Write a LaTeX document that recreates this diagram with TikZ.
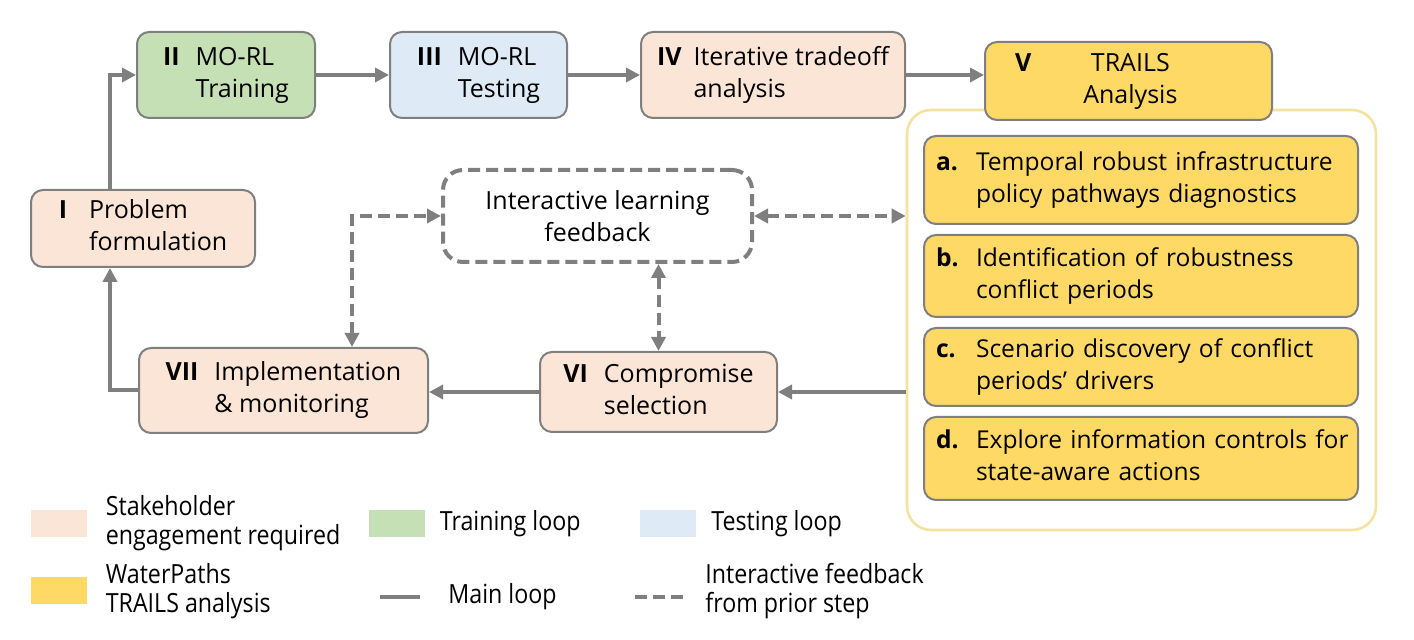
\documentclass[tikz,border=0pt]{standalone}
\usepackage{fontspec}
\setmainfont{Open Sans}
\newfontfamily\legendFace[FakeStretch=0.88]{Open Sans}
\usetikzlibrary{arrows.meta,positioning}

\definecolor{stakePeach}{HTML}{FBE5D6}
\definecolor{trainGreen}{HTML}{C5E0B4}
\definecolor{testBlue}{HTML}{DEEBF7}
\definecolor{trailsYellow}{HTML}{FFD966}
\definecolor{frameYellow}{HTML}{F3E2A0}
\definecolor{lineGray}{HTML}{7F7F7F}

\newcommand{\boxFont}[0]{\fontsize{12.5}{16}\selectfont}
\newcommand{\itemFont}[0]{\fontsize{12.3}{16}\selectfont}
\newcommand{\legendFont}[0]{\legendFace\fontsize{13.2}{14.5}\selectfont}
\newcommand{\stageLabel}[3][8pt]{\textbf{#2}\hspace{#1}\begin{tabular}[t]{@{}l@{}}#3\end{tabular}}
\newcommand{\trailsItem}[2]{\makebox[20pt][l]{\textbf{#1}}\begin{tabular}[t]{@{}l@{}}#2\end{tabular}}

\begin{document}
\begin{tikzpicture}[x=0.5pt, y=-0.5pt]
  \tikzset{
    stageBox/.style={draw=lineGray, line width=1pt, rounded corners=6pt, inner sep=0pt, font=\boxFont},
    itemBox/.style={stageBox, fill=trailsYellow, minimum width=217pt, text width=205pt, inner xsep=6pt,
      align=left, font=\itemFont},
    mainLoop/.style={draw=lineGray, line width=2pt, -{Triangle[length=7pt,width=7pt]}},
    fbLoop/.style={draw=lineGray, line width=2pt, dash pattern=on 6pt off 3pt,
      {Triangle[length=7pt,width=7pt]}-{Triangle[length=7pt,width=7pt]}},
    swatch/.style={minimum width=28pt, minimum height=13.5pt, inner sep=0pt},
    legendText/.style={align=left, inner sep=0pt, font=\legendFont}
  }
  \useasboundingbox (0,0) rectangle (1414,640);

  % main stages
  \node[stageBox, fill=stakePeach, minimum width=112pt, minimum height=38.5pt] (probForm) at (143,228.5)
    {\stageLabel[11pt]{I}{Problem\\formulation}};
  \node[stageBox, fill=trainGreen, minimum width=89pt, minimum height=43pt] (moTrain) at (226,75)
    {\stageLabel{II}{MO-RL\\Training}};
  \node[stageBox, fill=testBlue, minimum width=88.5pt, minimum height=43pt] (moTest) at (478.5,75)
    {\stageLabel{III}{MO-RL\\Testing}};
  \node[stageBox, fill=stakePeach, minimum width=132pt, minimum height=43pt] (tradeoff) at (773,75)
    {\stageLabel[6pt]{IV}{Iterative tradeoff\\analysis}};

  % TRAILS frame
  \node[draw=frameYellow, line width=1.3pt, fill=white, rounded corners=12pt,
    minimum width=234.5pt, minimum height=210pt] (trailsFrame) at (1141.5,320) {};
  \node[stageBox, fill=trailsYellow, minimum width=143.5pt, minimum height=39pt,
    text width=113.5pt, inner xsep=15pt, align=left] (trails) at (1128.5,81)
    {\textbf{V}\hspace{26pt}\begin{tabular}[t]{@{}c@{}}TRAILS\\Analysis\end{tabular}};
  \node[itemBox, minimum height=44pt] (itemA) at (1141,180)
    {\trailsItem{a.}{Temporal robust infrastructure\\policy pathways diagnostics}};
  \node[itemBox, minimum height=41pt] (itemB) at (1141,276)
    {\trailsItem{b.}{Identification of robustness\\conflict periods}};
  \node[itemBox, minimum height=39pt] (itemC) at (1141,367)
    {\trailsItem{c.}{Scenario discovery of conflict\\periods’ drivers}};
  \node[itemBox, minimum height=41.5pt] (itemD) at (1141,458.5)
    {\trailsItem{d.}{Explore information controls for\\state-aware actions}};

  % lower stages
  \node[draw=lineGray, line width=2pt, dash pattern=on 6pt off 3pt, rounded corners=10pt,
    minimum width=154.5pt, minimum height=46pt, align=center, font=\boxFont] (learnFb) at (597.5,216)
    {Interactive learning\\feedback};
  \node[stageBox, fill=stakePeach, minimum width=144.5pt, minimum height=42.5pt] (implement) at (283.5,390.5)
    {\stageLabel{VII}{Implementation\\\& monitoring}};
  \node[stageBox, fill=stakePeach, minimum width=118.5pt, minimum height=40pt] (compromise) at (658.5,392)
    {\stageLabel{VI}{Compromise\\selection}};

  % main loop
  \coordinate (loopX) at (110,0);
  \coordinate (fbX) at (352,0);
  \draw[mainLoop] (probForm.north -| loopX) |- (moTrain.west);
  \draw[mainLoop] (moTrain.east) -- (moTest.west);
  \draw[mainLoop] (moTest.east) -- (tradeoff.west);
  \draw[mainLoop] (tradeoff.east) -- (tradeoff.east -| trails.west);
  \draw[mainLoop] (trailsFrame.west |- compromise.east) -- (compromise.east);
  \draw[mainLoop] (compromise.west) -- (compromise.west -| implement.east);
  \draw[mainLoop] (implement.west) -| (probForm.south -| loopX);

  % interactive feedback
  \draw[fbLoop] (implement.north -| fbX) |- (learnFb.west);
  \draw[fbLoop] (learnFb.south -| compromise.north) -- (compromise.north);
  \draw[fbLoop] (learnFb.east) -- (learnFb.east -| trailsFrame.west);

  % legend
  \node[swatch, fill=stakePeach] (keyStake) at (59,523.5) {};
  \node[legendText, right=9pt of keyStake] (keyStakeTxt) {Stakeholder\\engagement required};
  \node[swatch, fill=trainGreen] (keyTrain) at (397,523.5) {};
  \node[legendText, right=7pt of keyTrain] (keyTrainTxt) {Training loop};
  \node[swatch, fill=testBlue] (keyTest) at (667.5,523.5) {};
  \node[legendText, right=7.5pt of keyTest] (keyTestTxt) {Testing loop};
  \node[swatch, fill=trailsYellow] (keyTrails) at (59,591) {};
  \node[legendText, right=9pt of keyTrails] (keyTrailsTxt) {WaterPaths\\TRAILS analysis};
  \coordinate (keyMainA) at (380,597);
  \coordinate (keyMainB) at (420,597);
  \draw[draw=lineGray, line width=2pt] (keyMainA) -- (keyMainB);
  \node[legendText, right=14pt of keyMainB] (keyMainTxt) {Main loop};
  \coordinate (keyFbA) at (635,597);
  \coordinate (keyFbB) at (683,597);
  \draw[draw=lineGray, line width=2pt, dash pattern=on 6pt off 3pt] (keyFbA) -- (keyFbB);
  \node[legendText, right=11pt of keyFbB, yshift=3pt] (keyFbTxt) {Interactive feedback\\from prior step};
\end{tikzpicture}
\end{document}
